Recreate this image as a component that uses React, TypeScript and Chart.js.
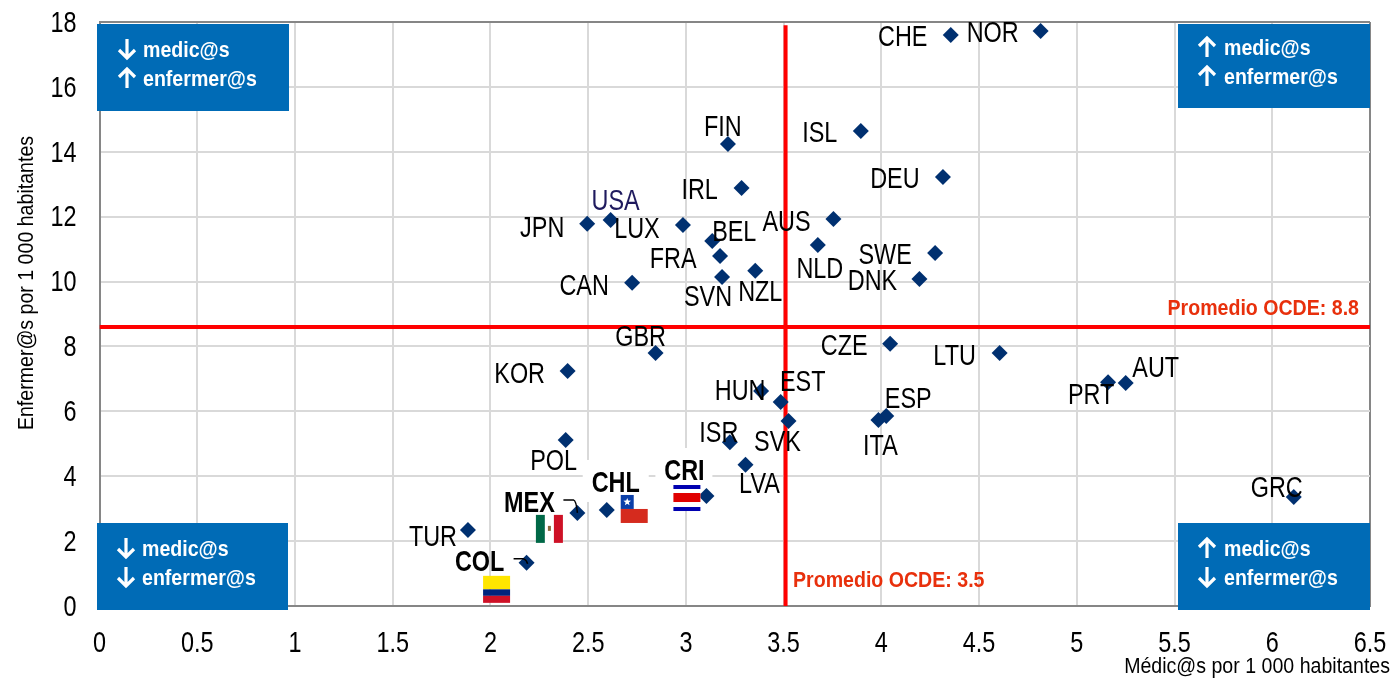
import React, { useEffect, useRef } from "react";
import { Chart, registerables } from "chart.js";

Chart.register(...registerables);

const countries = ["NOR","CHE","ISL","FIN","DEU","IRL","AUS","USA","JPN","LUX","BEL","NLD","SWE","FRA","NZL","SVN","DNK","CAN","CZE","GBR","LTU","KOR","AUT","PRT","HUN","EST","ESP","ITA","SVK","ISR","POL","LVA","CRI","GRC","CHL","MEX","TUR","COL"];
const medicos = [4.815,4.355,3.895,3.215,4.315,3.285,3.755,2.615,2.495,2.985,3.135,3.675,4.275,3.175,3.355,3.185,4.195,2.725,4.045,2.845,4.605,2.395,5.25,5.16,3.385,3.485,4.025,3.985,3.525,3.225,2.385,3.305,3.105,6.11,2.595,2.445,1.885,2.185];
const enfermeras = [17.72,17.6,14.64,14.24,13.22,12.88,11.93,11.9,11.78,11.74,11.25,11.13,10.88,10.79,10.33,10.14,10.08,9.96,8.08,7.8,7.8,7.24,6.87,6.9,6.63,6.29,5.86,5.73,5.7,5.05,5.12,4.35,3.39,3.36,2.96,2.87,2.34,1.33];
const meanMedicos = 3.51;
const meanEnfermeras = 8.6;
const xLabel = "Médic@s por 1 000 habitantes";
const yLabel = "Enfermer@s por 1 000 habitantes";
const meanLabelX = "Promedio OCDE: 3.5";
const meanLabelY = "Promedio OCDE: 8.8";
const boldCountries = ["CRI", "CHL", "MEX", "COL"];

const labelOffsets: Record<string, [number, number]> = {
  NOR:[-48,1],CHE:[-48,1],ISL:[-41,1],FIN:[-5,-18],DEU:[-48,1],IRL:[-42,1],AUS:[-47,2],USA:[5,-20],JPN:[-45,3],LUX:[-46,3],BEL:[22,-10],NLD:[2,23],SWE:[-50,1],FRA:[-47,2],NZL:[5,20],SVN:[-14,19],DNK:[-47,1],CAN:[-48,2],CZE:[-46,1],GBR:[-15,-17],LTU:[-45,2],KOR:[-48,2],AUT:[30,-16],PRT:[-17,12],HUN:[-21,-1],EST:[22,-21],ESP:[22,-18],ITA:[2,25],SVK:[-11,20],ISR:[-11,-10],POL:[-12,20],LVA:[14,18],CRI:[-22,-26],GRC:[-17,-10],CHL:[9,-28],MEX:[-48,-11],TUR:[-35,6],COL:[-47,-2],
};

const FONT = '"Liberation Sans", Arial, sans-serif';

const boxes = [
  { x: 97, y: 24, w: 192, h: 87, arrows: [-1, 1], ax: 127, tx: 143, ty: [50, 79] },
  { x: 1178, y: 24, w: 192, h: 84, arrows: [1, 1], ax: 1207, tx: 1224, ty: [48, 77] },
  { x: 97, y: 523, w: 191, h: 87, arrows: [-1, -1], ax: 126, tx: 142, ty: [549, 578] },
  { x: 1178, y: 523, w: 192, h: 87, arrows: [1, -1], ax: 1207, tx: 1224, ty: [549, 578] },
];

function px(chart: any, code: string) {
  const i = countries.indexOf(code);
  return { x: chart.scales.x.getPixelForValue(medicos[i]), y: chart.scales.y.getPixelForValue(enfermeras[i]) };
}

function rects(ctx: CanvasRenderingContext2D, list: [string, number, number, number, number][]) {
  for (const [c, x, y, w, h] of list) {
    ctx.fillStyle = c;
    ctx.fillRect(x, y, w, h);
  }
}

// No condensed face is installed: every string is squeezed along its own baseline.
const condensedText = {
  id: "condensedText",
  beforeInit(chart: any) {
    const ctx = chart.ctx;
    const original = ctx.fillText.bind(ctx);
    ctx.fillText = (text: string, x: number, y: number) => {
      const size = parseFloat((ctx.font.match(/([\d.]+)px/) || [])[1] || "12");
      const large = size >= 28;
      ctx.save();
      ctx.translate(x, y + (large ? 1.5 : 1));
      ctx.scale(large ? 0.78 : 0.89, 1);
      original(text, 0, 0);
      ctx.restore();
    };
  },
};

const backgroundPatches = {
  id: "backgroundPatches",
  beforeDatasetsDraw(chart: any) {
    const ctx = chart.ctx;
    const chl = px(chart, "CHL");
    const cri = px(chart, "CRI");
    ctx.save();
    ctx.fillStyle = "#ffffff";
    ctx.fillRect(chl.x - 24, chl.y - 50, 66, 42);
    ctx.fillRect(cri.x - 51, cri.y - 48, 57, 40);
    ctx.restore();
  },
};

function arrow(ctx: CanvasRenderingContext2D, x: number, y: number, dir: number) {
  ctx.strokeStyle = "#FFFFFF";
  ctx.lineWidth = 3.2;
  ctx.beginPath();
  ctx.moveTo(x, y + 10 * dir);
  ctx.lineTo(x, y - 9 * dir);
  ctx.moveTo(x - 8, y - 1 * dir);
  ctx.lineTo(x, y - 9 * dir);
  ctx.lineTo(x + 8, y - 1 * dir);
  ctx.stroke();
}

function star(ctx: CanvasRenderingContext2D, x: number, y: number, r: number) {
  ctx.beginPath();
  for (let i = 0; i < 10; i++) {
    const a = -Math.PI / 2 + (i * Math.PI) / 5;
    const d = i % 2 ? r * 0.42 : r;
    ctx.lineTo(x + d * Math.cos(a), y + d * Math.sin(a));
  }
  ctx.closePath();
  ctx.fill();
}

const annotations = {
  id: "annotations",
  afterDatasetsDraw(chart: any) {
    const ctx: CanvasRenderingContext2D = chart.ctx;
    ctx.save();

    // flags, placed relative to their country's point
    const col = px(chart, "COL");
    const cx = col.x - 43.5, cy = col.y + 13;
    rects(ctx, [["#FFE600", cx, cy, 27, 13.5], ["#00247D", cx, cy + 13.5, 27, 6.5], ["#CE1126", cx, cy + 20, 27, 7]]);
    const mex = px(chart, "MEX");
    const mx = mex.x - 41.5, my = mex.y + 2;
    rects(ctx, [["#006847", mx, my, 9, 28], ["#FFFFFF", mx + 9, my, 9, 28], ["#CE1126", mx + 18, my, 9, 28], ["#8C6A3C", mx + 12, my + 11, 3, 5]]);
    const chl = px(chart, "CHL");
    const lx = chl.x + 14, ly = chl.y - 15;
    rects(ctx, [["#FFFFFF", lx, ly, 27, 14], ["#0B3FA8", lx, ly, 13, 14], ["#D52B1E", lx, ly + 14, 27, 14]]);
    ctx.fillStyle = "#FFFFFF";
    star(ctx, lx + 6.5, ly + 7, 4);
    const cri = px(chart, "CRI");
    const rx = cri.x - 33, ry = cri.y - 11;
    rects(ctx, [["#FFFFFF", rx, ry, 27, 26], ["#0000B0", rx, ry, 27, 4], ["#E00000", rx, ry + 8, 27, 9], ["#0000B0", rx, ry + 22, 27, 4]]);

    // leader lines
    ctx.strokeStyle = "#000000";
    ctx.lineWidth = 1.5;
    ctx.beginPath();
    ctx.moveTo(mex.x - 14, mex.y - 13);
    ctx.lineTo(mex.x - 4, mex.y - 13);
    ctx.quadraticCurveTo(mex.x - 1, mex.y - 12, mex.x, mex.y);
    ctx.moveTo(col.x - 13, col.y - 4);
    ctx.lineTo(col.x - 3, col.y - 4);
    ctx.quadraticCurveTo(col.x, col.y - 3, col.x + 1, col.y + 1);
    ctx.stroke();

    // country labels
    ctx.textAlign = "center";
    ctx.textBaseline = "middle";
    countries.forEach((code) => {
      const p = px(chart, code);
      const [dx, dy] = labelOffsets[code];
      const bold = boldCountries.includes(code);
      ctx.font = `${bold ? "bold " : ""}30px ${FONT}`;
      ctx.fillStyle = code === "USA" ? "#1F1A5E" : "#000000";
      ctx.fillText(code, p.x + dx, p.y + dy);
    });

    // mean labels
    ctx.font = `bold 22px ${FONT}`;
    ctx.fillStyle = "#E8300C";
    ctx.textAlign = "right";
    ctx.fillText(meanLabelY, 1359, 308);
    ctx.textAlign = "left";
    ctx.fillText(meanLabelX, 793, 580);

    // quadrant boxes
    for (const b of boxes) {
      ctx.fillStyle = "#006BB6";
      ctx.fillRect(b.x, b.y, b.w, b.h);
      ["medic@s", "enfermer@s"].forEach((t, i) => {
        ctx.fillStyle = "#FFFFFF";
        ctx.textAlign = "left";
        ctx.font = `bold 22px ${FONT}`;
        ctx.fillText(t, b.tx, b.ty[i]);
        arrow(ctx, b.ax, b.ty[i] - 1, b.arrows[i]);
      });
    }

    // axis captions
    ctx.fillStyle = "#000000";
    ctx.font = `22px ${FONT}`;
    ctx.textAlign = "right";
    ctx.fillText(xLabel, 1390, 666);
    ctx.save();
    ctx.translate(26, 283);
    ctx.rotate(-Math.PI / 2);
    ctx.textAlign = "center";
    ctx.fillText(yLabel, 0, 0);
    ctx.restore();
    ctx.restore();
  },
};

export default function App() {
  const ref = useRef<HTMLCanvasElement>(null);
  useEffect(() => {
    const chart = new Chart(ref.current!, {
      type: "scatter",
      data: {
        datasets: [
          {
            label: "Enfermer@s / Médic@s",
            data: countries.map((_, i) => ({ x: medicos[i], y: enfermeras[i] })),
            pointStyle: "rectRot",
            pointRadius: 8,
            pointHoverRadius: 8,
            backgroundColor: "#003070",
            borderColor: "#003070",
            borderWidth: 0,
            order: 1,
          },
          {
            label: "Promedio médic@s",
            data: [{ x: meanMedicos, y: 0 }, { x: meanMedicos, y: 17.9 }],
            showLine: true,
            pointRadius: 0,
            borderColor: "#FF0000",
            borderWidth: 4,
            order: 2,
          },
          {
            label: "Promedio enfermer@s",
            data: [{ x: 0, y: meanEnfermeras }, { x: 6.5, y: meanEnfermeras }],
            showLine: true,
            pointRadius: 0,
            borderColor: "#FF0000",
            borderWidth: 4,
            order: 2,
          },
        ],
      },
      options: {
        responsive: false,
        animation: false,
        layout: { padding: { top: 22, right: 22, left: 0, bottom: 0 } },
        plugins: { legend: { display: false }, tooltip: { enabled: false } },
        scales: {
          x: {
            type: "linear",
            min: 0,
            max: 6.5,
            afterFit: (s: any) => { s.height = 74; s.paddingLeft = 0; s.paddingRight = 0; },
            border: { color: "#868686", width: 2 },
            grid: {
              drawTicks: false,
              lineWidth: 2,
              color: (c: any) => (c.tick && c.tick.value === 6.5 ? "#868686" : "#D9D9D9"),
            },
            ticks: {
              stepSize: 0.5,
              padding: 18,
              maxRotation: 0,
              autoSkip: false,
              color: "#000000",
              font: { family: FONT, size: 30 },
              callback: (v: any) => String(v),
            },
          },
          y: {
            type: "linear",
            min: 0,
            max: 18,
            afterFit: (s: any) => { s.width = 99.5; s.paddingTop = 0; s.paddingBottom = 0; },
            border: { color: "#868686", width: 2 },
            grid: {
              drawTicks: false,
              lineWidth: 2,
              color: (c: any) => (c.tick && c.tick.value === 18 ? "#868686" : "#D9D9D9"),
            },
            ticks: {
              stepSize: 2,
              padding: 23,
              color: "#000000",
              font: { family: FONT, size: 30 },
            },
          },
        },
      },
      plugins: [condensedText, backgroundPatches, annotations],
    });
    return () => chart.destroy();
  }, []);
  return (
    <div style={{ position: "absolute", left: 0, top: 0, width: 1392, height: 680 }}>
      <canvas ref={ref} width={1392} height={680} style={{ display: "block" }} />
    </div>
  );
}
